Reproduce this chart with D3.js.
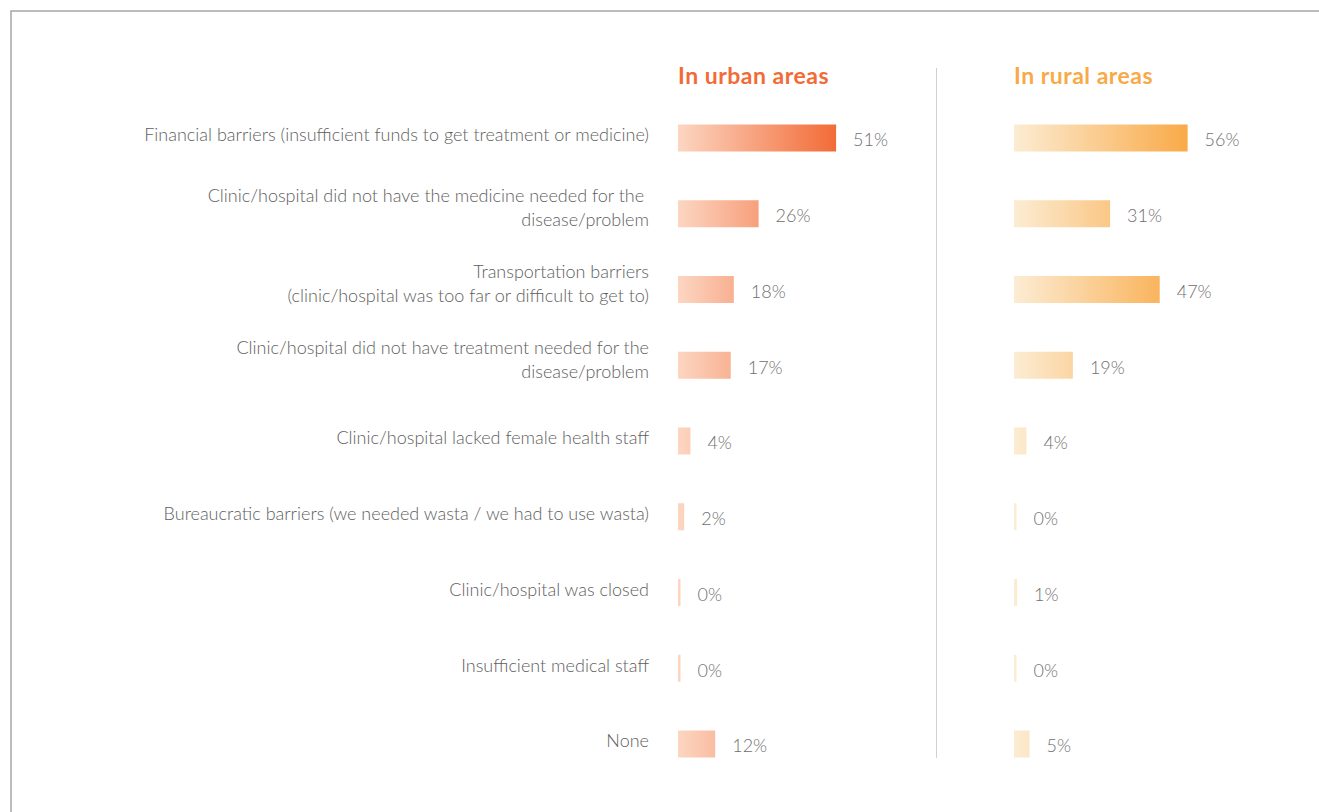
<!DOCTYPE html>
<html>
<head>
<meta charset="utf-8">
<script src="https://cdn.jsdelivr.net/npm/d3@7"></script>
<style>
  body { margin: 0; background: #fff; }
  svg { display: block; }
</style>
</head>
<body>
<svg width="1319" height="812"></svg>
<script>
// barriers to getting treatment, urban vs rural
var categories = [
    "Financial barriers (insufficient funds to get treatment or medicine)",
    "Clinic/hospital did not have the medicine needed for the \ndisease/problem",
    "Transportation barriers\n(clinic/hospital was too far or difficult to get to)",
    "Clinic/hospital did not have treatment needed for the\ndisease/problem",
    "Clinic/hospital lacked female health staff",
    "Bureaucratic barriers (we needed wasta / we had to use wasta)",
    "Clinic/hospital was closed",
    "Insufficient medical staff",
    "None"
];
var urban = [51, 26, 18, 17, 4, 2, 0, 0, 12];
var rural = [56, 31, 47, 19, 4, 0, 1, 0, 5];
var panelTitles = ["In urban areas", "In rural areas"];

var svg = d3.select("svg");
var font = "'Gill Sans', 'Lato', 'Open Sans', sans-serif";

// frame
svg.append("path")
    .attr("d", "M11,812 L11,11 L1319,11")
    .attr("fill", "none")
    .attr("stroke", "#a6a6a6")
    .attr("stroke-width", 1.5);

var y = d3.scalePoint().domain(d3.range(categories.length)).range([138, 744]);
var w = d3.scaleLinear().domain([0, 100]).range([0, 310]);
var barH = 27;

// category labels
var lab = svg.append("g")
    .attr("font-family", font)
    .attr("font-weight", 300)
    .attr("font-size", "18px")
    .attr("fill", "#5e5e5e")
    .attr("text-anchor", "end");
categories.forEach(function(c, i) {
    var lines = c.split("\n");
    var t = lab.append("text")
        .attr("x", 649)
        .attr("y", y(i) - 3 - (lines.length - 1) * 15);
    lines.forEach(function(l, j) {
        t.append("tspan").attr("x", 649).attr("dy", j ? 24 : "0.35em").text(l);
    });
});

// divider
svg.append("line")
    .attr("x1", 936.5).attr("x2", 936.5)
    .attr("y1", 68).attr("y2", 758)
    .attr("stroke", "#d0d0d0")
    .attr("stroke-width", 1);

var panels = [
    { x0: 678, title: panelTitles[0], values: urban, c0: "#fcd6c2", c1: "#f26b37", title_c: "#f26b37" },
    { x0: 1014, title: panelTitles[1], values: rural, c0: "#fcecd3", c1: "#f9aa48", title_c: "#f9aa48" }
];

var defs = svg.append("defs");

panels.forEach(function(p, k) {
    var maxV = d3.max(p.values);
    var grad = defs.append("linearGradient")
        .attr("id", "grad" + k)
        .attr("gradientUnits", "userSpaceOnUse")
        .attr("x1", p.x0).attr("x2", p.x0 + w(maxV))
        .attr("y1", 0).attr("y2", 0);
    grad.append("stop").attr("offset", 0).attr("stop-color", p.c0);
    grad.append("stop").attr("offset", 1).attr("stop-color", p.c1);

    var g = svg.append("g");
    g.append("text")
        .attr("x", p.x0)
        .attr("y", 84)
        .attr("font-family", font)
        .attr("font-weight", 700)
        .attr("font-size", "23px")
        .attr("letter-spacing", "0.5px")
        .attr("fill", p.title_c)
        .text(p.title);

    g.selectAll("rect")
        .data(p.values)
        .enter().append("rect")
        .attr("x", p.x0)
        .attr("y", function(d, i) { return y(i) - barH / 2; })
        .attr("width", function(d) { return Math.max(w(d), 2.5); })
        .attr("height", barH)
        .attr("fill", "url(#grad" + k + ")");

    g.selectAll(".val")
        .data(p.values)
        .enter().append("text")
        .attr("class", "val")
        .attr("x", function(d) { return p.x0 + Math.max(w(d), 2.5) + 17; })
        .attr("y", function(d, i) { return y(i) + 2; })
        .attr("dy", "0.35em")
        .attr("font-family", font)
        .attr("font-weight", 300)
        .attr("font-size", "18px")
        .attr("fill", "#707070")
        .text(function(d) { return d + "%"; });
});
</script>
</body>
</html>
